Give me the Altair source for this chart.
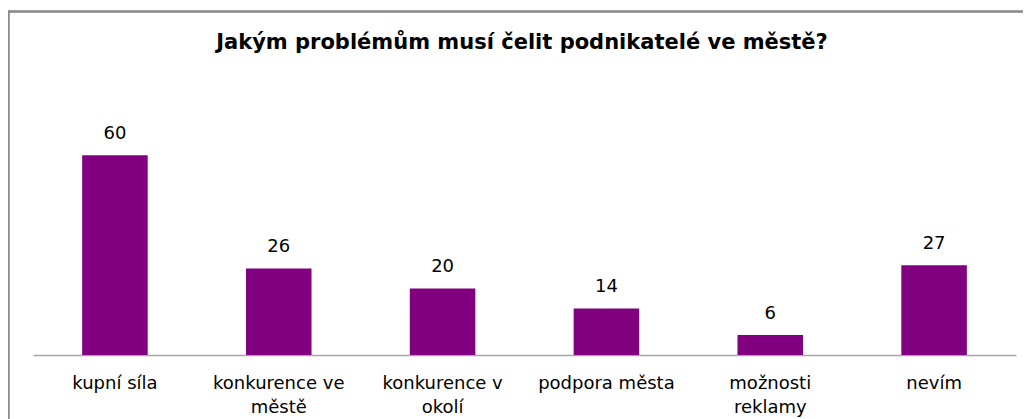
import altair as alt
import pandas as pd

categories = ["kupní síla", "konkurence ve\nměstě", "konkurence v\nokolí",
              "podpora města", "možnosti\nreklamy", "nevím"]
values = [60, 26, 20, 14, 6, 27]
title_text = "Jakým problémům musí čelit podnikatelé ve městě?"

df = pd.DataFrame({"kategorie": categories, "pocet": values})

FONT = "DejaVu Sans"

x = alt.X("kategorie:N", sort=categories, title=None,
          scale=alt.Scale(paddingInner=0.6, paddingOuter=0.3),
          axis=alt.Axis(labelAngle=0, labelExpr="split(datum.value, '\\n')",
                        labelFontSize=18, labelFont=FONT, labelColor="#000000",
                        labelPadding=19, labelLineHeight=24, ticks=False,
                        domainColor="#A6A6A6", domainWidth=1.5, labelLimit=200))
y = alt.Y("pocet:Q", title=None, scale=alt.Scale(domain=[0, 70], nice=False),
          axis=None)

bars = alt.Chart(df).mark_bar(color="#800080").encode(x=x, y=y)
labels = alt.Chart(df).mark_text(baseline="bottom", dy=-12, fontSize=18,
                                 font=FONT, color="#000000").encode(
    x=alt.X("kategorie:N", sort=categories), y="pocet:Q", text="pocet:Q")

title = alt.Chart(pd.DataFrame({"t": [title_text]})).mark_text(
    fontSize=21, font=FONT, fontWeight="bold", color="#000000",
    baseline="alphabetic", align="center").encode(
    x=alt.value(489), y=alt.value(-73), text="t:N")

frame_top = alt.Chart(df).mark_rule(color="#8C8C8C", strokeWidth=1.5, clip=False).encode(
    x=alt.value(-25), x2=alt.value(1000), y=alt.value(-110.5))
frame_left = alt.Chart(df).mark_rule(color="#8C8C8C", strokeWidth=1.5, clip=False).encode(
    x=alt.value(-24.5), y=alt.value(-110.5), y2=alt.value(400))

chart = alt.layer(bars, labels, title, frame_top, frame_left).properties(
    width=983, height=233,
    padding={"left": 25, "top": 114, "right": 7, "bottom": 64},
    autosize=alt.AutoSizeParams(type="none"),
).configure_view(stroke=None)

chart.save("out.html", embed_options={"renderer": "svg", "actions": False})
